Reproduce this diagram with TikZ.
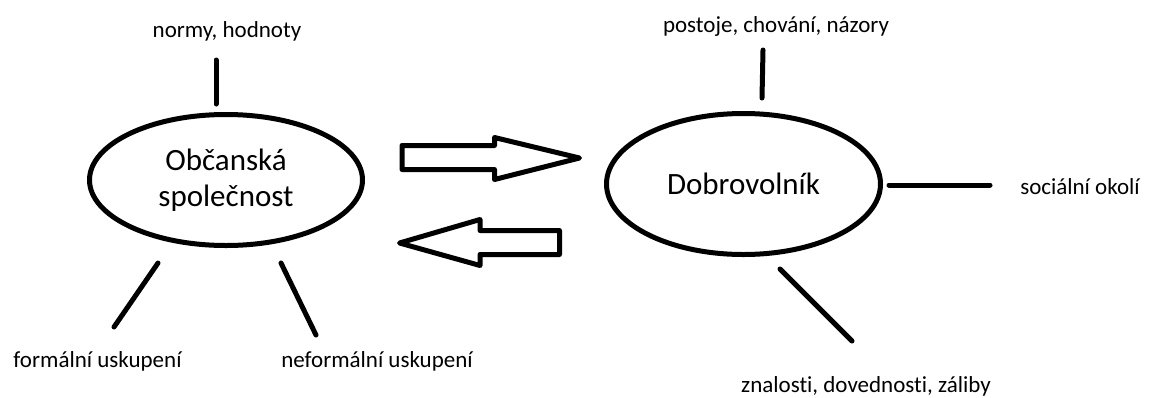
\documentclass[tikz,border=0pt]{standalone}
\usepackage{fontspec}
\setmainfont[RawFeature=-liga]{Carlito}
\usetikzlibrary{shapes.geometric}
\begin{document}
\begin{tikzpicture}[x=1pt,y=-1pt]

\tikzset{
    bubble/.style={draw, ellipse, line width=5pt, inner sep=0pt, align=center, font=\fontsize{31}{36}\selectfont},
    tag/.style={anchor=base, inner sep=0pt, font=\fontsize{23}{27}\selectfont},
    spoke/.style={line width=5pt, line cap=round},
    blockarrow/.style={draw, line width=5pt, line join=round, fill=white}
}
\useasboundingbox (0,0) rectangle (1150,397);

\node[bubble, minimum width=273pt, minimum height=131pt] (obcan) at (226,180) {Občanská\\společnost};
\node[bubble, minimum width=274pt, minimum height=141pt] (dobro) at (743.5,184) {Dobrovolník};

\node[tag] (normy) at (227,37) {normy, hodnoty};
\node[tag] (formal) at (97.5,367) {formální uskupení};
\node[tag] (neformal) at (377,367) {neformální uskupení};
\node[tag] (postoje) at (776,32) {postoje, chování, názory};
\node[tag] (okoli) at (1080,194) {sociální okolí};
\node[tag] (znalosti) at (866,392) {znalosti, dovednosti, záliby};

\coordinate (normyA) at (216,60);    \coordinate (normyB) at (216,104);
\coordinate (formalA) at (158,263);  \coordinate (formalB) at (114,327);
\coordinate (neformA) at (281,263);  \coordinate (neformB) at (316,335);
\coordinate (postojA) at (763,50);   \coordinate (postojB) at (762,98);
\coordinate (okoliA) at (889,185);   \coordinate (okoliB) at (990,185);
\coordinate (znalA) at (780,269);    \coordinate (znalB) at (852,341);

\draw[spoke] (normyA) -- (normyB);
\draw[spoke] (formalA) -- (formalB);
\draw[spoke] (neformA) -- (neformB);
\draw[spoke] (postojA) -- (postojB);
\draw[spoke] (okoliA) -- (okoliB);
\draw[spoke] (znalA) -- (znalB);

\path[blockarrow] (402,145.5) -- (494.5,145.5) -- (494.5,137.5) -- (579.5,158) -- (494.5,179.5) -- (494.5,169.5) -- (402,169.5) -- cycle;
\path[blockarrow] (399.5,243) -- (480,219.5) -- (480,230.5) -- (559.5,230.5) -- (559.5,254.5) -- (480,254.5) -- (480,265.5) -- cycle;

\end{tikzpicture}
\end{document}
